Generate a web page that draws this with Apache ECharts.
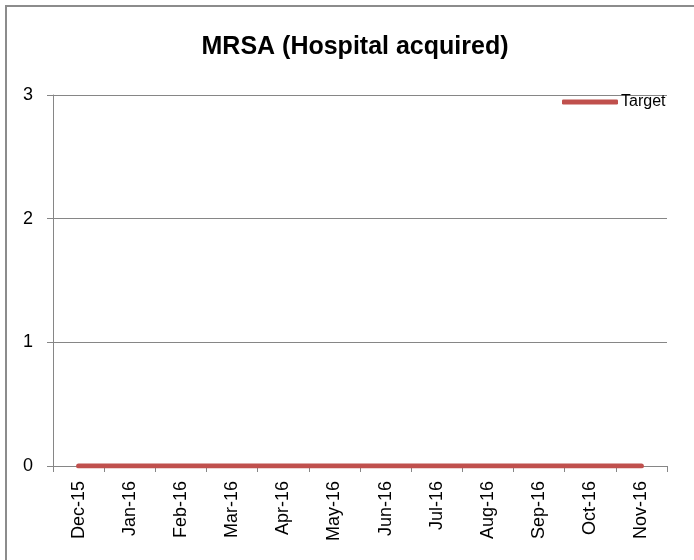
<!DOCTYPE html>
<html>
<head>
<meta charset="utf-8">
<script src="https://cdn.jsdelivr.net/npm/echarts@6/dist/echarts.min.js"></script>
<style>html,body{margin:0;padding:0;background:#fff;}#c{width:694px;height:560px;}</style>
</head>
<body>
<div id="c"></div>
<script>
const categories = ['Dec-15','Jan-16','Feb-16','Mar-16','Apr-16','May-16','Jun-16','Jul-16','Aug-16','Sep-16','Oct-16','Nov-16'];
const targetValues = [0,0,0,0,0,0,0,0,0,0,0,0];
const yTicks = [0,1,2,3];

const chart = echarts.init(document.getElementById('c'), null, {renderer:'canvas'});
const axisGray = '#868686';
const font = 'Liberation Sans, Arial, sans-serif';
chart.setOption({
  animation: false,
  backgroundColor: '#fff',
  title: {
    text: 'MRSA (Hospital acquired)',
    left: 350, textAlign: 'center', top: 30,
    textStyle: {fontFamily: font, fontSize: 25, fontWeight: 'bold', color: '#000'}
  },
  legend: {
    left: 562, top: 94, padding: 0, itemGap: 0,
    itemWidth: 56, itemHeight: 5,
    data: [{name: 'Target', icon: 'roundRect'}],
    textStyle: {fontFamily: font, fontSize: 16, color: '#000', padding: [3,0,0,-2]}
  },
  grid: {left: 53, right: 27, top: 95, bottom: 94, containLabel: false},
  xAxis: {
    type: 'category', data: categories, boundaryGap: true,
    axisLine: {lineStyle: {color: axisGray, width: 1}},
    axisTick: {show: true, length: 6, lineStyle: {color: axisGray}},
    axisLabel: {rotate: 90, margin: 15, interval: 0, fontFamily: font, fontSize: 18, color: '#000', padding: [0,0,0,0]}
  },
  yAxis: {
    type: 'value', min: yTicks[0], max: yTicks[yTicks.length-1], interval: 1,
    axisLine: {show: true, lineStyle: {color: axisGray, width: 1}},
    axisTick: {show: true, length: 6, lineStyle: {color: axisGray}},
    splitLine: {show: true, lineStyle: {color: axisGray, width: 1}},
    axisLabel: {margin: 20, fontFamily: font, fontSize: 18, color: '#000'}
  },
  series: [{
    name: 'Target', type: 'line', data: targetValues,
    showSymbol: false, symbol: 'none',
    itemStyle: {color: '#c0504d'},
    lineStyle: {color: '#c0504d', width: 5, cap: 'round'}
  }],
  graphic: [{
    type: 'rect', silent: true,
    shape: {x: 6, y: 6, width: 760, height: 640},
    style: {fill: 'none', stroke: '#8c8c8c', lineWidth: 2}
  }]
});
</script>
</body>
</html>
